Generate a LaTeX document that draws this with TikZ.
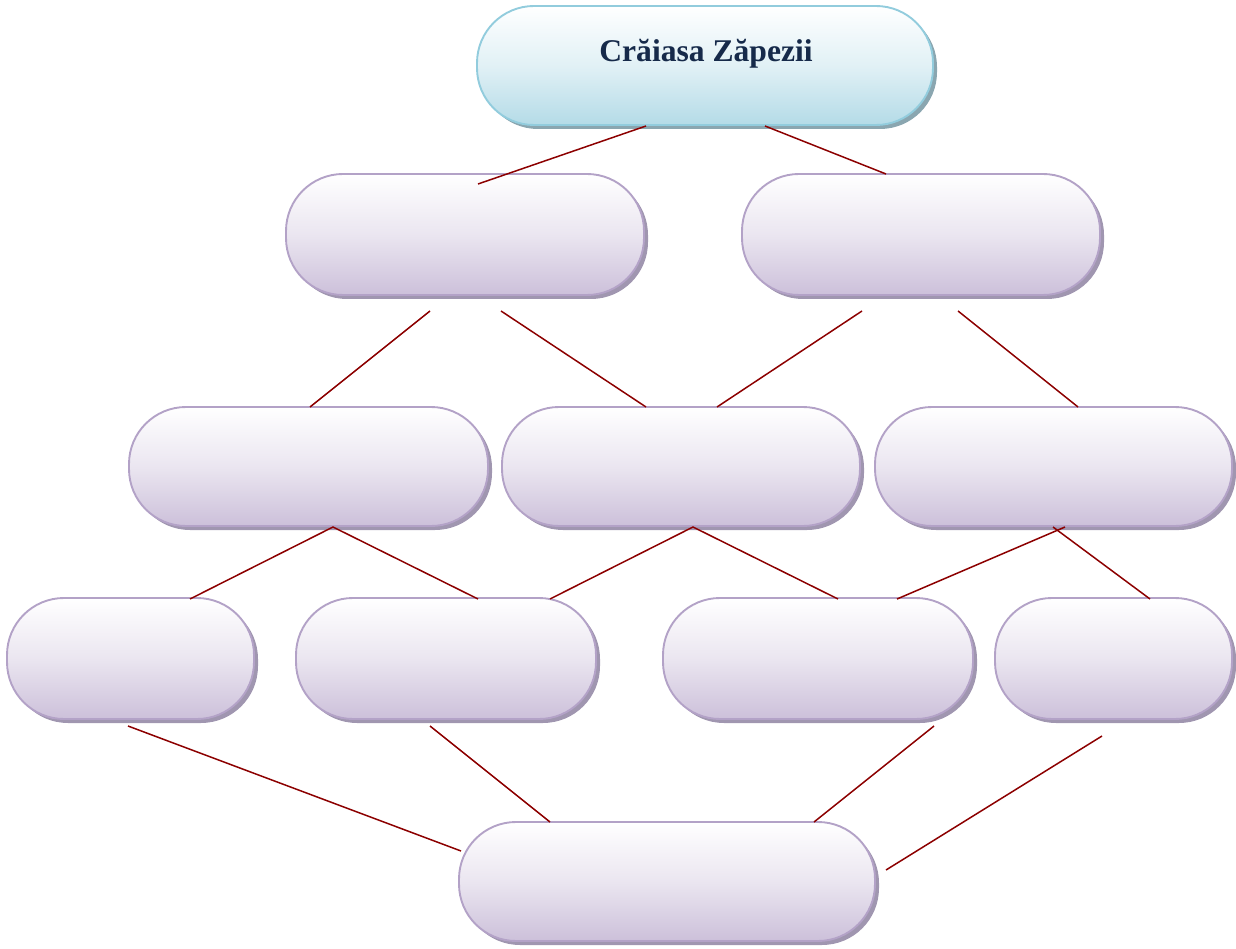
\documentclass[tikz,border=0pt]{standalone}
\usepackage{fontspec}
\setmainfont{Liberation Serif}
\usetikzlibrary{fit}
\definecolor{conn}{RGB}{140,0,0}
\definecolor{titletext}{RGB}{22,42,74}
\definecolor{bluefill}{RGB}{180,219,231}
\definecolor{blueline}{RGB}{146,204,221}
\definecolor{blueshadow}{RGB}{138,166,176}
\definecolor{purplefill}{RGB}{204,192,218}
\definecolor{purpleline}{RGB}{179,162,199}
\definecolor{purpleshadow}{RGB}{160,150,176}
\tikzset{
  link/.style={draw=conn, line width=1.5pt},
  capsule frame/.style={rounded corners=57pt, line width=1.9pt},
  titlefont/.style={font=\fontsize{31.6}{36}\selectfont\bfseries, text=titletext}
}
% #1 name, #2 x1, #3 y1, #4 x2, #5 y2, #6 colour prefix
\newcommand\capsulebox[6]{%
  \fill[#6shadow, capsule frame] (#2+4,#3+4) rectangle (#4+4,#5+4);
  \shade[capsule frame, top color=white, bottom color=#6fill, middle color=#6fill!40!white, draw=#6line] (#2,#3) rectangle (#4,#5);
  \coordinate (#1-nw) at (#2,#3);
  \coordinate (#1-se) at (#4,#5);
  \node[fit=(#1-nw)(#1-se), inner sep=0pt] (#1) {};
}
\begin{document}
\begin{tikzpicture}[x=1pt,y=-1pt]
\useasboundingbox (0,0) rectangle (1236,949);
\capsulebox{top}{477}{6}{933}{125}{blue}
\capsulebox{L}{286}{174}{644}{295}{purple}
\capsulebox{R}{742}{174}{1100}{295}{purple}
\capsulebox{A}{129}{407}{488}{526}{purple}
\capsulebox{B}{502}{407}{860}{526}{purple}
\capsulebox{C}{875}{407}{1232}{526}{purple}
\capsulebox{a}{7}{598}{254}{719}{purple}
\capsulebox{b}{296}{598}{596}{719}{purple}
\capsulebox{c}{663}{598}{973}{719}{purple}
\capsulebox{d}{995}{598}{1232}{719}{purple}
\capsulebox{bot}{459}{822}{875}{941}{purple}
\node[titlefont, anchor=base] (title) at (706,62) {Crăiasa Zăpezii};
% connector end points
\coordinate (t1) at (646,126); \coordinate (l1) at (478,184);
\coordinate (t2) at (765,126); \coordinate (r1) at (886,174);
\coordinate (l2) at (430,311); \coordinate (a1) at (310,407);
\coordinate (l3) at (501,311); \coordinate (b1) at (646,407);
\coordinate (r2) at (862,311); \coordinate (b2) at (717,407);
\coordinate (r3) at (958,311); \coordinate (c1) at (1078,407);
\coordinate (a2) at (333,527); \coordinate (x1) at (190,599); \coordinate (y1) at (478,599);
\coordinate (b3) at (693,527); \coordinate (y2) at (550,599); \coordinate (z1) at (838,599);
\coordinate (c2) at (1065,527); \coordinate (z2) at (897,599);
\coordinate (c3) at (1053,527); \coordinate (w1) at (1150,599);
\coordinate (x2) at (128,726); \coordinate (m1) at (461,851);
\coordinate (y3) at (430,726); \coordinate (m2) at (550,822);
\coordinate (z3) at (934,726); \coordinate (m3) at (814,822);
\coordinate (w2) at (1102,736); \coordinate (m4) at (886,870);
\draw[link] (t1) -- (l1);
\draw[link] (t2) -- (r1);
\draw[link] (l2) -- (a1);
\draw[link] (l3) -- (b1);
\draw[link] (r2) -- (b2);
\draw[link] (r3) -- (c1);
\draw[link] (x1) -- (a2) -- (y1);
\draw[link] (y2) -- (b3) -- (z1);
\draw[link] (c2) -- (z2);
\draw[link] (c3) -- (w1);
\draw[link] (x2) -- (m1);
\draw[link] (y3) -- (m2);
\draw[link] (z3) -- (m3);
\draw[link] (w2) -- (m4);
\end{tikzpicture}
\end{document}
